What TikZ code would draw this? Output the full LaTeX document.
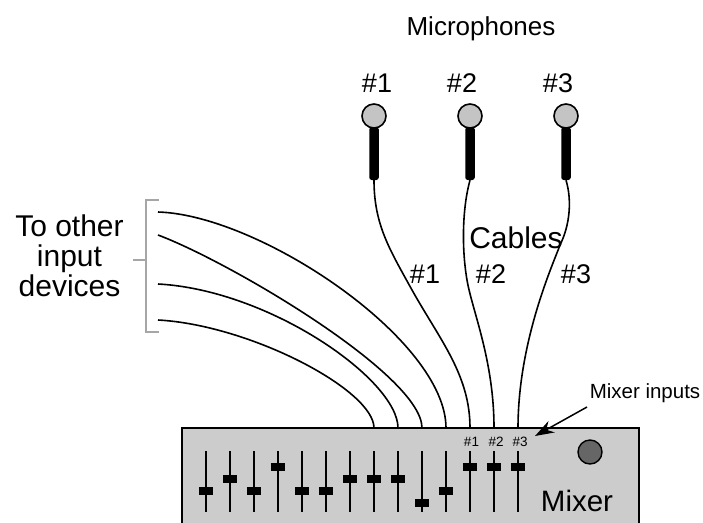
\documentclass[tikz,border=0pt]{standalone}
\usepackage{fontspec}
\setmainfont{Liberation Sans}
\usetikzlibrary{arrows.meta}
\newcommand{\fs}[1]{\fontsize{#1}{#1}\selectfont}
\tikzset{
  cable/.style={line width=1.6pt,black},
  micball/.style={circle,draw=black,line width=1.6pt,fill=black!23,minimum size=24pt,inner sep=0pt},
  micbody/.style={rectangle,rounded corners=2.5pt,fill=black,minimum width=9.5pt,minimum height=53pt,inner sep=0pt},
  big/.style={anchor=base,inner sep=0pt,font=\fs{30}},
  mid/.style={anchor=base,inner sep=0pt,font=\fs{27}},
  tiny/.style={anchor=base,inner sep=0pt,font=\fs{13.5}},
  fadertrack/.style={line width=1.5pt,black},
  faderknob/.style={rectangle,fill=black,minimum width=14pt,minimum height=8pt,inner sep=0pt},
  bracket/.style={line width=1.5pt,black!35},
}
\newcommand{\fader}[3]{%
  \coordinate (ft#1) at (#2,451);
  \coordinate (fb#1) at (#2,512);
  \draw[fadertrack] (ft#1) -- (fb#1);
  \node[faderknob] (fk#1) at (#2,#3) {};
}
\begin{document}
\begin{tikzpicture}[x=1pt,y=-1pt]
\useasboundingbox (0,0) rectangle (703,522);
\clip (0,0) rectangle (703,522);
% mixer
\draw[line width=1.6pt,fill=black!20] (182,540) -- (182,428) -- (639,428) -- (639,540) -- cycle;
\coordinate (in1) at (374,428);
\coordinate (in2) at (398,428);
\coordinate (in3) at (422,428);
\coordinate (in4) at (446,428);
\coordinate (in5) at (470,428);
\coordinate (in6) at (494,428);
\coordinate (in7) at (518,428);
\fader{1}{206}{491}\fader{2}{230}{479}\fader{3}{254}{491}\fader{4}{278}{467}
\fader{5}{302}{491}\fader{6}{326}{491}\fader{7}{350}{479}\fader{8}{374}{479}
\fader{9}{398}{479}\fader{10}{422}{503}\fader{11}{446}{491}\fader{12}{470}{467}
\fader{13}{494}{467}\fader{14}{518}{467}
\node[circle,draw=black,line width=1.4pt,fill=black!60,minimum size=24pt,inner sep=0pt] (knob) at (590,452) {};
\node[anchor=base,inner sep=0pt,font=\fs{29.5}] (mixlabel) at (577,511) {Mixer};
\node[tiny] (s1) at (471.5,446) {\#1};
\node[tiny] (s2) at (496,446) {\#2};
\node[tiny] (s3) at (520,446) {\#3};
\node[anchor=base,inner sep=0pt,font=\fs{20.5}] (inputs) at (645,398) {Mixer inputs};
\coordinate (arrowfrom) at (587,407);
\coordinate (arrowto) at (535,436);
\draw[line width=1.5pt,-{Stealth[length=19pt,width=13pt]}] (arrowfrom) -- (arrowto);
% microphones
\node[anchor=base,inner sep=0pt,font=\fs{26}] (title) at (481,35) {Microphones};
\foreach \i/\x/\lx in {1/374/377,2/470/462,3/566/558}{
  \node[mid] (n\i) at (\lx,92) {\#\i};
  \node[micbody] (b\i) at (\x,153.5) {};
  \node[micball] (m\i) at (\x,116) {};
}
% microphone cables
\draw[cable] (b1.south) .. controls (374,225) and (390,250) .. (412,290)
  .. controls (440,340) and (470,375) .. (in5);
\draw[cable] (b2.south) .. controls (463,205) and (461,245) .. (467,280)
  .. controls (472,310) and (494,360) .. (in6);
\draw[cable] (b3.south) .. controls (572,200) and (570,225) .. (560,245)
  .. controls (554,262) and (518,340) .. (in7);
% other cables
\coordinate (o1) at (158,212);
\coordinate (o2) at (158,235);
\coordinate (o3) at (158,284);
\coordinate (o4) at (158,320);
\draw[cable] (o1) .. controls (260,215) and (446,340) .. (in4);
\draw[cable] (o2) .. controls (230,262) and (422,375) .. (in3);
\draw[cable] (o3) .. controls (270,290) and (398,380) .. (in2);
\draw[cable] (o4) .. controls (250,325) and (374,390) .. (in1);
% bracket
\coordinate (bt) at (159,200);
\coordinate (bb) at (159,332);
\coordinate (bm) at (146,260);
\coordinate (bs) at (133,260);
\draw[bracket] (bt) -- (146,200) -- (146,332) -- (bb);
\draw[bracket] (bs) -- (bm);
\node[big] (t1) at (69.5,236) {To other};
\node[big] (t2) at (69.5,266) {input};
\node[big] (t3) at (69.5,296) {devices};
% labels
\node[big] (cables) at (516,248) {Cables};
\node[mid] (c1) at (425,283) {\#1};
\node[mid] (c2) at (491,283) {\#2};
\node[mid] (c3) at (576,283) {\#3};
\end{tikzpicture}
\end{document}
